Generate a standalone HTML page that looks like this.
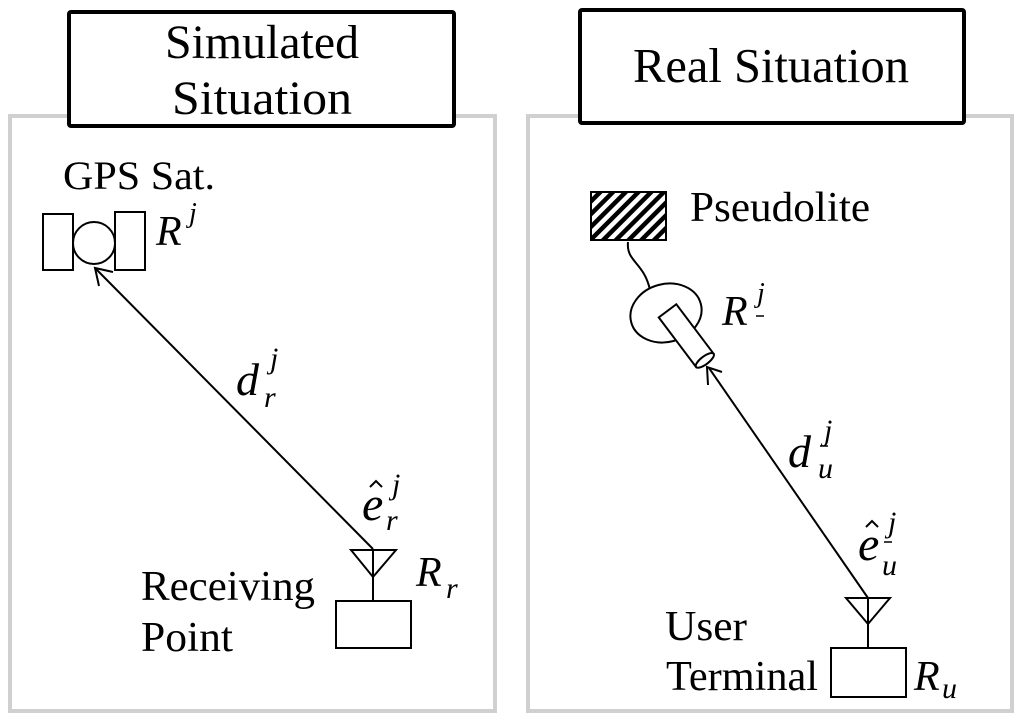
<!DOCTYPE html>
<html><head><meta charset="utf-8"><style>
html,body{margin:0;padding:0;background:#fff;}
svg{display:block;}
text{font-family:"Liberation Serif",serif;fill:#000;}
.m{font-style:italic;}
</style></head><body>
<svg width="1024" height="721" viewBox="0 0 1024 721" xmlns="http://www.w3.org/2000/svg">
<defs>
<pattern id="h" width="9" height="9" patternUnits="userSpaceOnUse" patternTransform="rotate(45)">
<rect width="9" height="9" fill="#fff"/><rect width="4.5" height="9" fill="#000"/>
</pattern>
</defs>
<rect x="10" y="116" width="485" height="595" fill="none" stroke="#d0d0d0" stroke-width="4"/>
<rect x="528" y="116" width="484" height="595" fill="none" stroke="#d0d0d0" stroke-width="4"/>
<rect x="69" y="12" width="385" height="114" fill="#fff" stroke="#000" stroke-width="4" rx="2"/>
<text x="262" y="58" font-size="48" text-anchor="middle" textLength="194" lengthAdjust="spacingAndGlyphs">Simulated</text>
<text x="262" y="114" font-size="48" text-anchor="middle" textLength="180" lengthAdjust="spacingAndGlyphs">Situation</text>
<rect x="580" y="10" width="384" height="113" fill="#fff" stroke="#000" stroke-width="4" rx="2"/>
<text x="771" y="82" font-size="49" text-anchor="middle" textLength="276" lengthAdjust="spacingAndGlyphs">Real Situation</text>

<text x="63" y="189" font-size="40" textLength="152" lengthAdjust="spacingAndGlyphs">GPS Sat.</text>
<rect x="43" y="214" width="30" height="56" fill="#fff" stroke="#000" stroke-width="2"/>
<rect x="115" y="212" width="30" height="58" fill="#fff" stroke="#000" stroke-width="2"/>
<circle cx="94" cy="243" r="21" fill="#fff" stroke="#000" stroke-width="2"/>
<text x="156" y="245" font-size="42" class="m">R</text><text x="189" y="222" font-size="28" class="m">j</text>
<line x1="373" y1="549" x2="95" y2="268" stroke="#000" stroke-width="2"/>
<polyline points="99,286 95,268 113,272" fill="none" stroke="#000" stroke-width="2"/>
<text x="236" y="395" font-size="46" class="m">d</text><text x="270" y="368" font-size="30" class="m">j</text><text x="264" y="407" font-size="30" class="m">r</text>
<text x="362" y="520" font-size="48" class="m">e</text><polyline points="370,487 376,481 382,487" fill="none" stroke="#000" stroke-width="2"/><text x="392" y="494" font-size="30" class="m">j</text><text x="386" y="530" font-size="30" class="m">r</text>
<polygon points="351,550 396,550 373,577" fill="#fff" stroke="#000" stroke-width="2"/>
<line x1="373" y1="550" x2="373" y2="601" stroke="#000" stroke-width="2"/>
<rect x="336" y="601" width="75" height="47" fill="#fff" stroke="#000" stroke-width="2"/>
<text x="416" y="586" font-size="42" class="m">R</text><text x="446" y="598" font-size="30" class="m">r</text>
<text x="141" y="600" font-size="42" textLength="174" lengthAdjust="spacingAndGlyphs">Receiving</text>
<text x="141" y="651" font-size="42" textLength="92" lengthAdjust="spacingAndGlyphs">Point</text>

<rect x="591" y="192" width="75" height="48" fill="url(#h)" stroke="#000" stroke-width="2"/>
<text x="690" y="221" font-size="42" textLength="180" lengthAdjust="spacingAndGlyphs">Pseudolite</text>
<path d="M628,242 C626,262 644,262 650,290" fill="none" stroke="#000" stroke-width="2"/>
<ellipse cx="666" cy="313" rx="36" ry="29" transform="rotate(-15 666 313)" fill="#fff" stroke="#000" stroke-width="2"/>
<g transform="rotate(-37 688 338)">
<rect x="677" y="304" width="22" height="62" fill="#fff" stroke="#000" stroke-width="2"/>
<ellipse cx="688" cy="366" rx="11" ry="4" fill="#fff" stroke="#000" stroke-width="2"/>
</g>
<text x="722" y="325" font-size="42" class="m">R</text><text x="757" y="302" font-size="28" class="m">j</text><line x1="756" y1="316" x2="764" y2="316" stroke="#000" stroke-width="1.5"/>
<line x1="868" y1="598" x2="709" y2="368" stroke="#000" stroke-width="2"/>
<polyline points="708,385 707,367 722,372" fill="none" stroke="#000" stroke-width="2"/>
<text x="788" y="467" font-size="46" class="m">d</text><text x="824" y="440" font-size="30" class="m">j</text><line x1="820" y1="446" x2="828" y2="446" stroke="#000" stroke-width="1.5"/><text x="818" y="478" font-size="30" class="m">u</text>
<text x="858" y="560" font-size="48" class="m">e</text><polyline points="866,527 872,521 878,527" fill="none" stroke="#000" stroke-width="2"/><text x="888" y="532" font-size="30" class="m">j</text><line x1="884" y1="542" x2="892" y2="542" stroke="#000" stroke-width="1.5"/><text x="882" y="575" font-size="30" class="m">u</text>
<polygon points="846,598 890,598 868,624" fill="#fff" stroke="#000" stroke-width="2"/>
<line x1="868" y1="598" x2="868" y2="648" stroke="#000" stroke-width="2"/>
<rect x="831" y="648" width="75" height="49" fill="#fff" stroke="#000" stroke-width="2"/>
<text x="914" y="690" font-size="42" class="m">R</text><text x="942" y="698" font-size="30" class="m">u</text>
<text x="665" y="640" font-size="42" textLength="82" lengthAdjust="spacingAndGlyphs">User</text>
<text x="666" y="690" font-size="42" textLength="152" lengthAdjust="spacingAndGlyphs">Terminal</text>
</svg>
</body></html>
